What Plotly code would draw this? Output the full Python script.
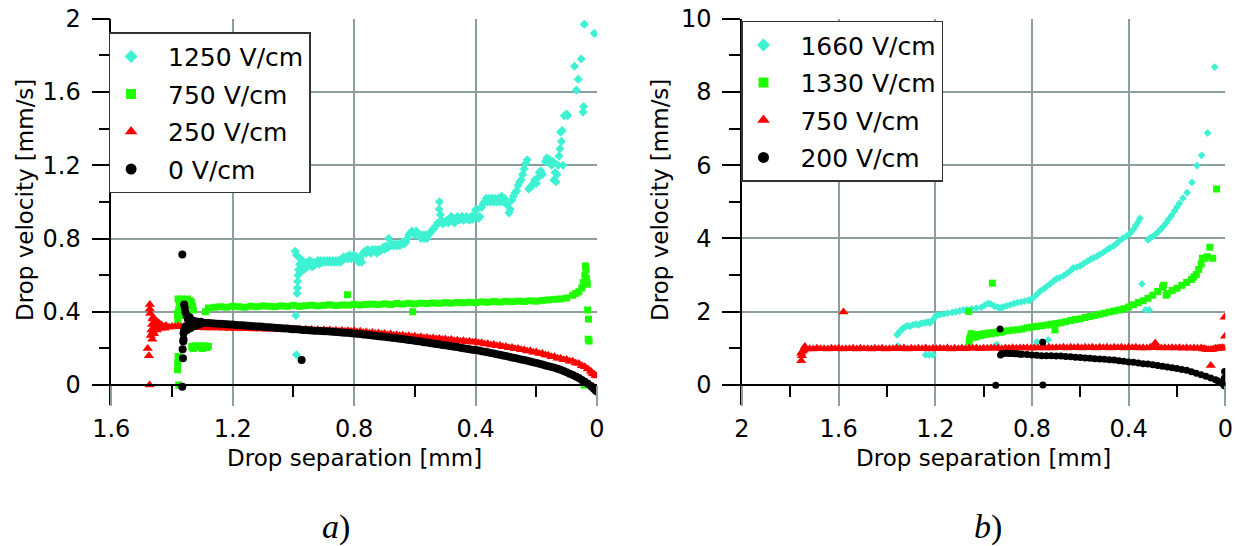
import plotly.graph_objects as go

# ---------------- data (left panel a) ----------------
L_NAMES = ["1250 V/cm", "750 V/cm", "250 V/cm", "0 V/cm"]
R_NAMES = ["1660 V/cm", "1330 V/cm", "750 V/cm", "200 V/cm"]

L_CYAN = [
    (0.994, 0.73), (0.99, 0.71), (0.99, 0.165), (0.992, 0.38), (0.988, 0.50), (0.987, 0.53), (0.986, 0.565),
    (0.985, 0.60), (0.983, 0.63), (0.98, 0.66), (0.978, 0.69), (0.975, 0.62), (0.972, 0.65), (0.97, 0.68),
    (0.966, 0.63), (0.962, 0.66), (0.958, 0.64), (0.955, 0.67), (0.95, 0.65), (0.946, 0.68), (0.942, 0.66),
    (0.938, 0.645), (0.934, 0.67), (0.93, 0.655), (0.925, 0.665), (0.92, 0.68), (0.915, 0.66),
    (0.91, 0.68), (0.905, 0.67), (0.90, 0.68), (0.895, 0.67), (0.89, 0.68), (0.885, 0.67), (0.88, 0.68),
    (0.875, 0.67), (0.87, 0.68), (0.865, 0.67), (0.86, 0.68), (0.855, 0.67), (0.85, 0.68), (0.845, 0.67),
    (0.84, 0.68), (0.835, 0.70), (0.83, 0.69), (0.825, 0.70), (0.82, 0.69), (0.815, 0.71), (0.81, 0.69),
    (0.805, 0.70), (0.80, 0.71), (0.795, 0.69), (0.79, 0.70), (0.785, 0.67), (0.78, 0.69), (0.775, 0.67),
    (0.77, 0.72), (0.765, 0.73), (0.76, 0.72), (0.755, 0.74), (0.75, 0.73), (0.745, 0.72), (0.74, 0.74),
    (0.735, 0.73), (0.73, 0.74), (0.725, 0.72), (0.72, 0.74), (0.715, 0.73), (0.71, 0.74), (0.705, 0.75),
    (0.70, 0.74), (0.695, 0.76), (0.69, 0.75), (0.686, 0.80), (0.68, 0.76), (0.675, 0.77), (0.67, 0.76),
    (0.665, 0.77), (0.66, 0.76), (0.655, 0.77), (0.65, 0.76), (0.645, 0.77), (0.64, 0.78), (0.635, 0.77),
    (0.63, 0.78), (0.625, 0.80), (0.62, 0.82), (0.615, 0.83), (0.61, 0.84), (0.605, 0.83), (0.60, 0.82),
    (0.595, 0.84), (0.59, 0.83), (0.585, 0.82), (0.58, 0.80), (0.575, 0.82), (0.57, 0.80), (0.565, 0.82),
    (0.56, 0.80), (0.555, 0.82), (0.55, 0.83), (0.545, 0.84), (0.54, 0.85), (0.535, 0.86), (0.53, 0.87),
    (0.525, 0.885), (0.52, 0.96), (0.519, 1.00), (0.516, 0.93), (0.512, 0.90), (0.508, 0.88), (0.50, 0.89),
    (0.495, 0.90), (0.49, 0.885), (0.485, 0.90), (0.48, 0.92), (0.475, 0.90), (0.47, 0.885), (0.465, 0.90),
    (0.46, 0.92), (0.455, 0.90), (0.45, 0.905), (0.445, 0.92), (0.44, 0.90), (0.435, 0.905), (0.43, 0.92),
    (0.425, 0.905), (0.42, 0.90), (0.415, 0.92), (0.41, 0.905), (0.405, 0.93), (0.40, 0.955), (0.395, 0.96),
    (0.39, 0.91), (0.386, 0.92), (0.38, 0.97), (0.375, 0.99), (0.37, 1.00), (0.365, 1.02), (0.36, 1.00),
    (0.355, 1.02), (0.35, 1.00), (0.345, 1.02), (0.34, 1.00), (0.335, 1.02), (0.33, 1.00), (0.325, 1.02),
    (0.32, 1.00), (0.315, 1.03), (0.31, 1.00), (0.305, 1.02), (0.30, 0.99), (0.295, 0.985), (0.29, 0.94),
    (0.286, 0.96), (0.28, 1.01), (0.275, 1.03), (0.27, 1.05), (0.265, 1.06), (0.26, 1.09), (0.255, 1.11),
    (0.25, 1.12), (0.245, 1.15), (0.24, 1.18), (0.235, 1.21), (0.23, 1.23), (0.225, 1.07), (0.22, 1.08),
    (0.215, 1.09), (0.21, 1.10), (0.205, 1.12), (0.20, 1.10), (0.195, 1.13), (0.19, 1.16), (0.185, 1.17),
    (0.18, 1.15), (0.17, 1.22), (0.165, 1.24), (0.16, 1.22), (0.155, 1.23), (0.15, 1.20), (0.145, 1.22),
    (0.142, 1.12), (0.138, 1.16), (0.135, 1.11), (0.132, 1.15), (0.128, 1.20), (0.125, 1.25), (0.122, 1.29),
    (0.12, 1.38), (0.117, 1.33), (0.115, 1.39), (0.112, 1.20), (0.108, 1.47), (0.10, 1.48), (0.097, 1.47),
    (0.074, 1.74), (0.068, 1.61), (0.062, 1.67), (0.052, 1.78), (0.046, 1.49), (0.044, 1.52), (0.042, 1.97),
    (0.009, 1.92),
]

L_GREEN = [
    (1.382, 0.39), (1.381, 0.356), (1.38, 0.156), (1.381, 0.12), (1.382, 0.084), (1.378, 0.0),
    (1.38, 0.47), (1.376, 0.45), (1.372, 0.43), (1.368, 0.47), (1.364, 0.44), (1.36, 0.46), (1.355, 0.45),
    (1.35, 0.47), (1.345, 0.44), (1.34, 0.46), (1.336, 0.45), (1.332, 0.43), (1.33, 0.41), (1.378, 0.41),
    (1.374, 0.38),
    (1.335, 0.21), (1.33, 0.20), (1.325, 0.215), (1.32, 0.21), (1.315, 0.205), (1.31, 0.215), (1.305, 0.21),
    (1.30, 0.20), (1.295, 0.215), (1.29, 0.21), (1.285, 0.205), (1.28, 0.212),
    (1.29, 0.40), (1.28, 0.42), (1.26, 0.425), (1.24, 0.428), (1.22, 0.425), (1.20, 0.43), (1.18, 0.428),
    (1.16, 0.425), (1.14, 0.43), (1.12, 0.428), (1.10, 0.432), (1.08, 0.43), (1.06, 0.428), (1.04, 0.432),
    (1.02, 0.43), (1.00, 0.435), (0.98, 0.43), (0.96, 0.433), (0.94, 0.436), (0.92, 0.432), (0.90, 0.435),
    (0.88, 0.438), (0.86, 0.434), (0.84, 0.437), (0.82, 0.436), (0.80, 0.44), (0.78, 0.437), (0.76, 0.44),
    (0.74, 0.442), (0.72, 0.439), (0.70, 0.443), (0.68, 0.44), (0.66, 0.445), (0.64, 0.442), (0.62, 0.446),
    (0.60, 0.443), (0.58, 0.447), (0.56, 0.445), (0.54, 0.448), (0.52, 0.446), (0.50, 0.45), (0.48, 0.447),
    (0.46, 0.451), (0.44, 0.449), (0.42, 0.452), (0.40, 0.45), (0.38, 0.454), (0.36, 0.452), (0.34, 0.456),
    (0.32, 0.453), (0.30, 0.457), (0.28, 0.455), (0.26, 0.458), (0.24, 0.456), (0.22, 0.46), (0.20, 0.458),
    (0.18, 0.462), (0.16, 0.465), (0.14, 0.468), (0.12, 0.47), (0.10, 0.475), (0.08, 0.49), (0.07, 0.50),
    (0.06, 0.51), (0.05, 0.53), (0.045, 0.56), (0.04, 0.60), (0.038, 0.65), (0.036, 0.63), (0.034, 0.58),
    (0.032, 0.55), (0.031, 0.41), (0.028, 0.36), (0.029, 0.25), (0.026, 0.24), (0.042, 0.0),
    (0.822, 0.493), (0.607, 0.40),
]

L_RED = [
    (1.480, 0.20), (1.476, 0.16), (1.474, 0.00), (1.473, 0.44), (1.473, 0.415), (1.472, 0.39),
    (1.47, 0.27), (1.468, 0.30), (1.466, 0.33), (1.464, 0.36), (1.462, 0.37), (1.46, 0.28), (1.458, 0.31),
    (1.455, 0.34), (1.452, 0.35), (1.45, 0.30), (1.447, 0.32), (1.444, 0.34), (1.44, 0.31), (1.436, 0.33),
    (1.43, 0.32), (1.425, 0.31), (1.42, 0.325), (1.41, 0.315), (1.40, 0.32), (1.39, 0.318), (1.38, 0.322),
    (1.37, 0.318), (1.465, 0.25), (1.462, 0.29),
    (1.36, 0.320), (1.34, 0.318), (1.32, 0.318), (1.30, 0.317), (1.28, 0.316), (1.26, 0.315), (1.24, 0.315),
    (1.22, 0.314), (1.20, 0.313), (1.18, 0.312), (1.16, 0.312), (1.14, 0.311), (1.12, 0.310), (1.10, 0.310),
    (1.08, 0.309), (1.06, 0.308), (1.04, 0.307), (1.02, 0.306), (1.00, 0.306), (0.98, 0.305), (0.96, 0.304),
    (0.94, 0.303), (0.92, 0.302), (0.90, 0.301), (0.88, 0.300), (0.86, 0.299), (0.84, 0.298), (0.82, 0.297),
    (0.80, 0.296), (0.78, 0.293), (0.76, 0.290), (0.74, 0.287), (0.72, 0.284), (0.70, 0.281), (0.68, 0.278),
    (0.66, 0.275), (0.64, 0.272), (0.62, 0.269), (0.60, 0.266), (0.58, 0.263), (0.56, 0.260), (0.54, 0.257),
    (0.52, 0.254), (0.50, 0.251), (0.48, 0.248), (0.46, 0.245), (0.44, 0.242), (0.42, 0.239), (0.40, 0.236),
    (0.38, 0.231), (0.36, 0.226), (0.34, 0.221), (0.32, 0.216), (0.30, 0.211), (0.28, 0.205), (0.26, 0.199),
    (0.24, 0.193), (0.22, 0.187), (0.20, 0.180), (0.18, 0.172), (0.16, 0.163), (0.14, 0.154), (0.12, 0.146),
    (0.10, 0.139), (0.08, 0.130), (0.06, 0.117), (0.04, 0.100), (0.03, 0.088), (0.02, 0.075), (0.01, 0.060),
    (0.00, 0.050),
    # lower edge of the dense band
    (1.35, 0.315), (1.33, 0.314), (1.31, 0.313), (1.29, 0.312), (1.27, 0.311), (1.25, 0.311), (1.23, 0.310),
    (1.21, 0.309), (1.19, 0.308), (1.17, 0.308), (1.15, 0.307), (1.13, 0.306), (1.11, 0.306), (1.09, 0.305),
    (1.07, 0.304), (1.05, 0.303), (1.03, 0.302), (1.01, 0.302), (0.99, 0.301), (0.97, 0.300), (0.95, 0.299),
    (0.93, 0.298), (0.91, 0.297), (0.89, 0.296), (0.87, 0.295), (0.85, 0.294), (0.83, 0.293), (0.81, 0.292),
    (0.79, 0.290), (0.77, 0.287), (0.75, 0.284), (0.73, 0.281), (0.71, 0.278), (0.69, 0.275), (0.67, 0.272),
    (0.65, 0.269), (0.63, 0.266), (0.61, 0.263), (0.59, 0.260), (0.57, 0.257), (0.55, 0.254), (0.53, 0.251),
    (0.51, 0.248), (0.49, 0.245), (0.47, 0.242), (0.45, 0.239), (0.43, 0.236), (0.41, 0.233), (0.39, 0.229),
    (0.37, 0.224), (0.35, 0.219), (0.33, 0.214), (0.31, 0.209), (0.29, 0.204), (0.27, 0.198), (0.25, 0.192),
    (0.23, 0.186), (0.21, 0.179), (0.19, 0.172), (0.17, 0.164), (0.15, 0.155), (0.13, 0.146), (0.11, 0.138),
    (0.09, 0.130), (0.07, 0.120), (0.05, 0.105), (0.015, 0.064), (0.005, 0.052),
]

L_BLACK = [
    (1.366, 0.712), (1.366, -0.01), (1.364, 0.146), (1.365, 0.195), (1.363, 0.237), (1.362, 0.25),
    (1.362, 0.283), (1.36, 0.44), (1.358, 0.42), (1.36, 0.30), (1.356, 0.40), (1.355, 0.32), (1.352, 0.38),
    (1.35, 0.30), (1.348, 0.36), (1.345, 0.33), (1.342, 0.37), (1.34, 0.31), (1.336, 0.355), (1.33, 0.32),
    (1.326, 0.35), (1.32, 0.325), (1.315, 0.345), (1.31, 0.33), (1.305, 0.345), (0.973, 0.136),
    (1.30, 0.340), (1.28, 0.338), (1.26, 0.336), (1.24, 0.334), (1.22, 0.332), (1.20, 0.330), (1.18, 0.327),
    (1.16, 0.325), (1.14, 0.322), (1.12, 0.320), (1.10, 0.318), (1.08, 0.315), (1.06, 0.313), (1.04, 0.310),
    (1.02, 0.308), (1.00, 0.305), (0.98, 0.303), (0.96, 0.300), (0.94, 0.298), (0.92, 0.296), (0.90, 0.294),
    (0.88, 0.292), (0.86, 0.290), (0.84, 0.287), (0.82, 0.285), (0.80, 0.282), (0.78, 0.278), (0.76, 0.275),
    (0.74, 0.271), (0.72, 0.267), (0.70, 0.263), (0.68, 0.259), (0.66, 0.255), (0.64, 0.251), (0.62, 0.246),
    (0.60, 0.242), (0.58, 0.237), (0.56, 0.232), (0.54, 0.227), (0.52, 0.222), (0.50, 0.217), (0.48, 0.212),
    (0.46, 0.207), (0.44, 0.201), (0.42, 0.196), (0.40, 0.191), (0.38, 0.185), (0.36, 0.179), (0.34, 0.172),
    (0.32, 0.165), (0.30, 0.158), (0.28, 0.151), (0.26, 0.143), (0.24, 0.136), (0.22, 0.128), (0.20, 0.120),
    (0.18, 0.112), (0.16, 0.103), (0.14, 0.094), (0.12, 0.084), (0.10, 0.070), (0.08, 0.055), (0.06, 0.038),
    (0.04, 0.018), (0.02, -0.005), (0.01, -0.020), (0.005, -0.028), (0.0, -0.035),
    (1.29, 0.339), (1.27, 0.337), (1.25, 0.335), (1.23, 0.333), (1.21, 0.331), (1.19, 0.328), (1.17, 0.326),
    (1.15, 0.323), (1.13, 0.321), (1.11, 0.319), (1.09, 0.316), (1.07, 0.314), (1.05, 0.311), (1.03, 0.309),
    (1.01, 0.306), (0.99, 0.304), (0.97, 0.301), (0.95, 0.299), (0.93, 0.297), (0.91, 0.295), (0.89, 0.293),
    (0.87, 0.291), (0.85, 0.288), (0.83, 0.286), (0.81, 0.283), (0.79, 0.280), (0.77, 0.276), (0.75, 0.273),
    (0.73, 0.269), (0.71, 0.265), (0.69, 0.261), (0.67, 0.257), (0.65, 0.253), (0.63, 0.248), (0.61, 0.244),
    (0.59, 0.239), (0.57, 0.234), (0.55, 0.229), (0.53, 0.224), (0.51, 0.219), (0.49, 0.214), (0.47, 0.209),
    (0.45, 0.204), (0.43, 0.198), (0.41, 0.193), (0.39, 0.188), (0.37, 0.182), (0.35, 0.175), (0.33, 0.168),
    (0.31, 0.161), (0.29, 0.154), (0.27, 0.147), (0.25, 0.139), (0.23, 0.132), (0.21, 0.124), (0.19, 0.116),
    (0.17, 0.107), (0.15, 0.098), (0.13, 0.089), (0.11, 0.077), (0.09, 0.062), (0.07, 0.046), (0.05, 0.028),
    (0.03, 0.007), (0.015, -0.012),
]

# ---------------- data (right panel b) ----------------
R_CYAN = [
    (1.358, 1.37), (1.352, 1.42), (1.345, 1.48), (1.338, 1.52), (1.333, 1.55), (1.325, 1.58), (1.315, 1.62),
    (1.305, 1.60), (1.292, 1.64), (1.28, 1.66), (1.27, 1.64), (1.26, 1.68), (1.25, 1.69), (1.24, 1.70),
    (1.23, 1.72), (1.222, 1.70), (1.21, 1.78), (1.20, 1.86), (1.195, 1.91), (1.18, 1.92), (1.165, 1.94),
    (1.15, 1.96), (1.13, 1.98), (1.115, 2.00), (1.10, 2.02), (1.085, 2.05), (1.07, 2.06), (1.05, 2.08),
    (1.03, 2.10), (1.01, 2.12), (0.995, 2.18), (0.981, 2.23), (0.97, 2.21), (0.955, 2.15), (0.94, 2.12),
    (0.93, 2.10), (0.92, 2.13), (0.905, 2.16), (0.89, 2.19), (0.875, 2.22), (0.86, 2.25), (0.845, 2.27),
    (0.83, 2.29), (0.815, 2.31), (0.808, 2.32), (0.795, 2.38), (0.78, 2.47), (0.765, 2.57), (0.75, 2.63),
    (0.739, 2.69), (0.725, 2.76), (0.71, 2.84), (0.698, 2.90), (0.685, 2.93), (0.67, 2.98), (0.655, 3.05),
    (0.64, 3.12), (0.629, 3.20), (0.615, 3.22), (0.601, 3.25), (0.585, 3.32), (0.57, 3.38), (0.556, 3.44),
    (0.545, 3.47), (0.532, 3.51), (0.52, 3.56), (0.505, 3.62), (0.49, 3.69), (0.478, 3.74), (0.463, 3.79),
    (0.45, 3.86), (0.436, 3.95), (0.425, 4.00), (0.41, 4.06), (0.394, 4.14), (0.38, 4.25), (0.37, 4.36),
    (0.36, 4.46), (0.353, 4.55),
    (0.32, 3.96), (0.31, 4.02), (0.30, 4.05), (0.288, 4.12), (0.275, 4.20), (0.265, 4.27), (0.256, 4.33),
    (0.245, 4.42), (0.235, 4.52), (0.223, 4.62), (0.21, 4.75), (0.20, 4.86), (0.19, 4.96), (0.175, 5.10),
    (0.158, 5.25), (0.138, 5.53), (0.117, 5.99), (0.098, 6.27), (0.073, 6.88), (0.044, 8.68),
    (1.355, 1.07), (1.24, 0.82), (1.225, 0.82), (1.21, 0.82), (0.953, 1.07), (0.945, 1.10), (0.78, 1.18),
    (0.76, 1.18), (0.733, 1.23), (0.345, 2.76), (0.33, 2.05), (0.315, 2.05),
]

R_GREEN = [
    (1.062, 2.01), (0.964, 2.78),
    (1.06, 1.18), (1.058, 1.25), (1.055, 1.32), (1.052, 1.38), (1.05, 1.40), (1.045, 1.36), (1.04, 1.30),
    (1.035, 1.37), (1.03, 1.32), (1.02, 1.38), (1.01, 1.35), (1.00, 1.40), (0.99, 1.38), (0.98, 1.42),
    (0.97, 1.40), (0.96, 1.43), (0.95, 1.42), (0.94, 1.45), (0.93, 1.44), (0.92, 1.46), (0.90, 1.48),
    (0.88, 1.50), (0.86, 1.51), (0.84, 1.53), (0.82, 1.56), (0.80, 1.58), (0.78, 1.60), (0.76, 1.62),
    (0.74, 1.64), (0.72, 1.66), (0.705, 1.50), (0.70, 1.68), (0.68, 1.70), (0.66, 1.73), (0.64, 1.76),
    (0.62, 1.79), (0.60, 1.81), (0.58, 1.84), (0.56, 1.87), (0.54, 1.90), (0.52, 1.93), (0.50, 1.96),
    (0.48, 1.99), (0.46, 2.02), (0.44, 2.05), (0.42, 2.08), (0.40, 2.13), (0.38, 2.19), (0.36, 2.25),
    (0.34, 2.30), (0.32, 2.37), (0.30, 2.45), (0.28, 2.55), (0.26, 2.67), (0.255, 2.72), (0.245, 2.45),
    (0.24, 2.50), (0.22, 2.58), (0.20, 2.64), (0.18, 2.72), (0.16, 2.80), (0.14, 2.88), (0.13, 2.95),
    (0.12, 3.02), (0.11, 3.15), (0.10, 3.30), (0.095, 3.46), (0.085, 3.46), (0.075, 3.50), (0.064, 3.76),
    (0.052, 3.46), (0.036, 5.35), (0.003, 0.0),
]

R_RED = [
    (1.755, 0.66), (1.755, 0.87), (1.752, 0.80), (1.75, 0.92), (1.745, 0.95), (1.74, 1.05), (1.735, 0.98),
    (1.72, 0.99), (1.69, 1.00), (1.66, 0.99), (1.63, 1.00), (1.60, 1.00), (1.57, 0.99), (1.54, 1.00),
    (1.51, 1.00), (1.48, 0.99), (1.45, 1.00), (1.42, 1.00), (1.39, 0.99), (1.36, 1.00), (1.33, 1.01),
    (1.30, 1.00), (1.27, 1.00), (1.24, 1.01), (1.21, 1.00), (1.18, 1.00), (1.15, 1.01), (1.12, 1.00),
    (1.09, 1.00), (1.06, 1.01), (1.03, 1.01), (1.00, 1.00), (0.97, 1.01), (0.94, 1.01), (0.91, 1.01),
    (0.88, 1.02), (0.85, 1.01), (0.82, 1.02), (0.79, 1.02), (0.76, 1.02), (0.73, 1.03), (0.70, 1.02),
    (0.67, 1.03), (0.64, 1.03), (0.61, 1.03), (0.58, 1.03), (0.55, 1.03), (0.52, 1.03), (0.49, 1.03),
    (0.46, 1.03), (0.43, 1.03), (0.40, 1.03), (0.37, 1.03), (0.34, 1.02), (0.31, 1.03), (0.28, 1.02),
    (0.25, 1.02), (0.22, 1.02), (0.19, 1.02), (0.16, 1.02), (0.13, 1.01), (0.10, 1.01), (0.085, 0.99),
    (0.07, 0.96), (0.055, 0.97), (0.04, 1.00), (0.025, 1.01), (0.012, 1.02),
    (1.705, 0.98), (1.675, 0.99), (1.645, 0.98), (1.615, 0.99), (1.585, 0.98), (1.555, 0.99), (1.525, 0.98),
    (1.495, 0.99), (1.465, 0.98), (1.435, 0.99), (1.405, 0.98), (1.375, 0.99), (1.345, 0.99), (1.315, 0.98),
    (1.285, 0.99), (1.255, 0.99), (1.225, 0.98), (1.195, 0.99), (1.165, 0.99), (1.135, 0.98), (1.105, 0.99),
    (1.075, 0.99), (1.045, 1.00), (1.015, 0.99), (0.985, 1.00), (0.955, 1.00), (0.925, 0.99), (0.895, 1.00),
    (0.865, 1.00), (0.835, 1.01), (0.805, 1.00), (0.775, 1.01), (0.745, 1.01), (0.715, 1.01), (0.685, 1.02),
    (0.655, 1.01), (0.625, 1.02), (0.595, 1.01), (0.565, 1.02), (0.535, 1.01), (0.505, 1.02), (0.475, 1.01),
    (0.445, 1.02), (0.415, 1.01), (0.385, 1.02), (0.355, 1.01), (0.325, 1.01), (0.295, 1.02), (0.265, 1.01),
    (0.235, 1.01), (0.205, 1.01), (0.175, 1.00), (0.145, 1.00), (0.115, 1.00), (0.092, 0.98), (0.078, 0.97),
    (0.062, 0.96), (0.048, 0.98), (0.032, 1.00), (0.018, 1.01), (0.006, 1.00),
    (1.58, 1.99), (0.29, 1.15), (0.06, 0.53), (0.003, 1.85), (0.001, 1.33),
]

R_BLACK = [
    (0.93, 0.82), (0.925, 0.85), (0.92, 0.86), (0.91, 0.87), (0.90, 0.87), (0.89, 0.86), (0.88, 0.86),
    (0.87, 0.85), (0.86, 0.85), (0.85, 0.84), (0.84, 0.84), (0.82, 0.83), (0.80, 0.82), (0.78, 0.81),
    (0.76, 0.80), (0.74, 0.80), (0.72, 0.80), (0.70, 0.79), (0.68, 0.79), (0.66, 0.78), (0.64, 0.77),
    (0.62, 0.76), (0.60, 0.75), (0.58, 0.74), (0.56, 0.73), (0.54, 0.72), (0.52, 0.71), (0.50, 0.70),
    (0.48, 0.69), (0.46, 0.68), (0.44, 0.66), (0.42, 0.65), (0.40, 0.63), (0.38, 0.62), (0.36, 0.60),
    (0.34, 0.58), (0.32, 0.57), (0.30, 0.55), (0.28, 0.53), (0.26, 0.51), (0.24, 0.49), (0.22, 0.47),
    (0.20, 0.45), (0.18, 0.42), (0.16, 0.40), (0.14, 0.36), (0.12, 0.32), (0.10, 0.28), (0.08, 0.24),
    (0.06, 0.19), (0.04, 0.14), (0.03, 0.11), (0.02, 0.07), (0.01, 0.03), (0.005, 0.0), (0.002, -0.03),
    (0.932, 1.53), (0.756, 1.17), (0.95, -0.01), (0.755, 0.0), (0.003, 0.37), (0.004, 0.19),
]

L_XTICKS = [1.6, 1.2, 0.8, 0.4, 0]
L_XMINOR = [1.4, 1.0, 0.6, 0.2]
L_YTICKS = [0, 0.4, 0.8, 1.2, 1.6, 2]
L_YMINOR = [0.2, 0.6, 1.0, 1.4, 1.8]
R_XTICKS = [2, 1.6, 1.2, 0.8, 0.4, 0]
R_XMINOR = [1.8, 1.4, 1.0, 0.6, 0.2]
R_YTICKS = [0, 2, 4, 6, 8, 10]
R_YMINOR = [1, 3, 5, 7, 9]

# ---------------- styling ----------------
W, H = 1238, 546
CYAN, GREEN, RED, BLACK = "#3DF2D3", "#1EFF00", "#FF0000", "#000000"
GRID = "#8E9E9E"
FONT = "DejaVu Sans"
PAD = "\u00a0\u00a0"  # visual gap between legend symbol and label


def fx(p):
    return p / W


def fy(p):
    return 1 - p / H


fig = go.Figure()

# legend-only traces (bigger symbols, as in the reference legend)
leg_specs = [
    ("legend", "x", "y", L_NAMES),
    ("legend2", "x2", "y2", R_NAMES),
]
symbols = [("diamond", CYAN, 10), ("square", GREEN, 10), ("triangle-up", RED, 11), ("circle", BLACK, 11)]
for leg, xa, ya, names in leg_specs:
    for name, (sym, col, sz) in zip(names, symbols):
        fig.add_trace(go.Scatter(
            x=[None], y=[None], mode="markers", name=PAD + name, legend=leg, legendgroup=leg + name,
            xaxis=xa, yaxis=ya,
            marker=dict(symbol=sym, color=col, size=sz, line=dict(width=0)),
        ))


def add_series(pts, xa, ya, sym, col, sz):
    xs = [p[0] for p in pts]
    ys = [p[1] for p in pts]
    fig.add_trace(go.Scatter(
        x=xs, y=ys, mode="markers", showlegend=False, hoverinfo="skip", xaxis=xa, yaxis=ya,
        marker=dict(symbol=sym, color=col, size=sz, line=dict(width=0)),
    ))


add_series(L_CYAN, "x", "y", "diamond", CYAN, 7)
add_series(L_GREEN, "x", "y", "square", GREEN, 7)
add_series(L_RED, "x", "y", "triangle-up", RED, 9)
add_series(L_BLACK, "x", "y", "circle", BLACK, 8)

add_series(R_CYAN, "x2", "y2", "diamond", CYAN, 6)
add_series(R_GREEN, "x2", "y2", "square", GREEN, 7)
add_series(R_RED, "x2", "y2", "triangle-up", RED, 9)
add_series(R_BLACK, "x2", "y2", "circle", BLACK, 7)

tickfont = dict(family=FONT, size=24, color="black")

Y_DOM = [fy(405), fy(18.7)]
X0_POS = fy(385)


def xaxis(domain, rng, ticks, minor):
    return dict(
        domain=domain, range=rng, anchor="free", position=X0_POS, automargin=False,
        tickmode="array", tickvals=ticks, showgrid=True, gridcolor=GRID, gridwidth=1.5,
        showline=True, linecolor="black", linewidth=1.5, zeroline=False,
        ticks="outside", ticklen=20, tickwidth=1.5, tickcolor=GRID, tickfont=tickfont,
        ticklabelstandoff=2,
        minor=dict(tickmode="array", tickvals=minor, ticks="outside", ticklen=11,
                   tickwidth=1.5, tickcolor="black", showgrid=False),
    )


def yaxis(anchor, rng, ticks, minor):
    return dict(
        domain=Y_DOM, range=rng, anchor=anchor, automargin=False,
        tickmode="array", tickvals=ticks, showgrid=True, gridcolor=GRID, gridwidth=1.5,
        showline=True, linecolor="black", linewidth=1.5, zeroline=False,
        ticks="outside", ticklen=18, tickwidth=1.5, tickcolor="black", tickfont=tickfont,
        ticklabelstandoff=6,
        minor=dict(tickmode="array", tickvals=minor, ticks="outside", ticklen=11,
                   tickwidth=1.5, tickcolor="black", showgrid=False),
    )


legend_common = dict(
    xanchor="left", yanchor="top", bgcolor="white", bordercolor="#333333", borderwidth=1.5,
    font=dict(family=FONT, size=25, color="black"), itemwidth=32, tracegroupgap=2,
    traceorder="grouped", itemsizing="trace",
)

fig.update_layout(
    width=W, height=H, margin=dict(l=0, r=0, t=0, b=0, autoexpand=False),
    paper_bgcolor="white", plot_bgcolor="white",
    xaxis=xaxis([fx(111.3), fx(597)], [1.6, 0], L_XTICKS, L_XMINOR),
    yaxis=yaxis("x", [-0.109, 2.0], L_YTICKS, L_YMINOR),
    xaxis2=xaxis([fx(742), fx(1225.3)], [2, 0], R_XTICKS, R_XMINOR),
    yaxis2=yaxis("x2", [-0.546, 10], R_YTICKS, R_YMINOR),
    legend=dict(x=fx(108.6), y=fy(32.3), **legend_common),
    legend2=dict(x=fx(741), y=fy(20.7), **legend_common),
    showlegend=True,
)

title_font = dict(family=FONT, size=23, color="black")
ann = [
    dict(text="Drop separation [mm]", x=fx(354), y=fy(458), font=title_font),
    dict(text="Drop separation [mm]", x=fx(983.7), y=fy(458), font=title_font),
    dict(text="Drop velocity [mm/s]", x=fx(25), y=fy(200), textangle=-90, font=title_font),
    dict(text="Drop velocity [mm/s]", x=fx(660), y=fy(200), textangle=-90, font=title_font),
    dict(text="<i>a</i>)", x=fx(336), y=fy(527),
         font=dict(family="Liberation Serif", size=34, color="black")),
    dict(text="<i>b</i>)", x=fx(988), y=fy(527),
         font=dict(family="Liberation Serif", size=34, color="black")),
]
for a in ann:
    fig.add_annotation(xref="paper", yref="paper", xanchor="center", yanchor="middle",
                       showarrow=False, **a)

fig.write_html("out.html")
